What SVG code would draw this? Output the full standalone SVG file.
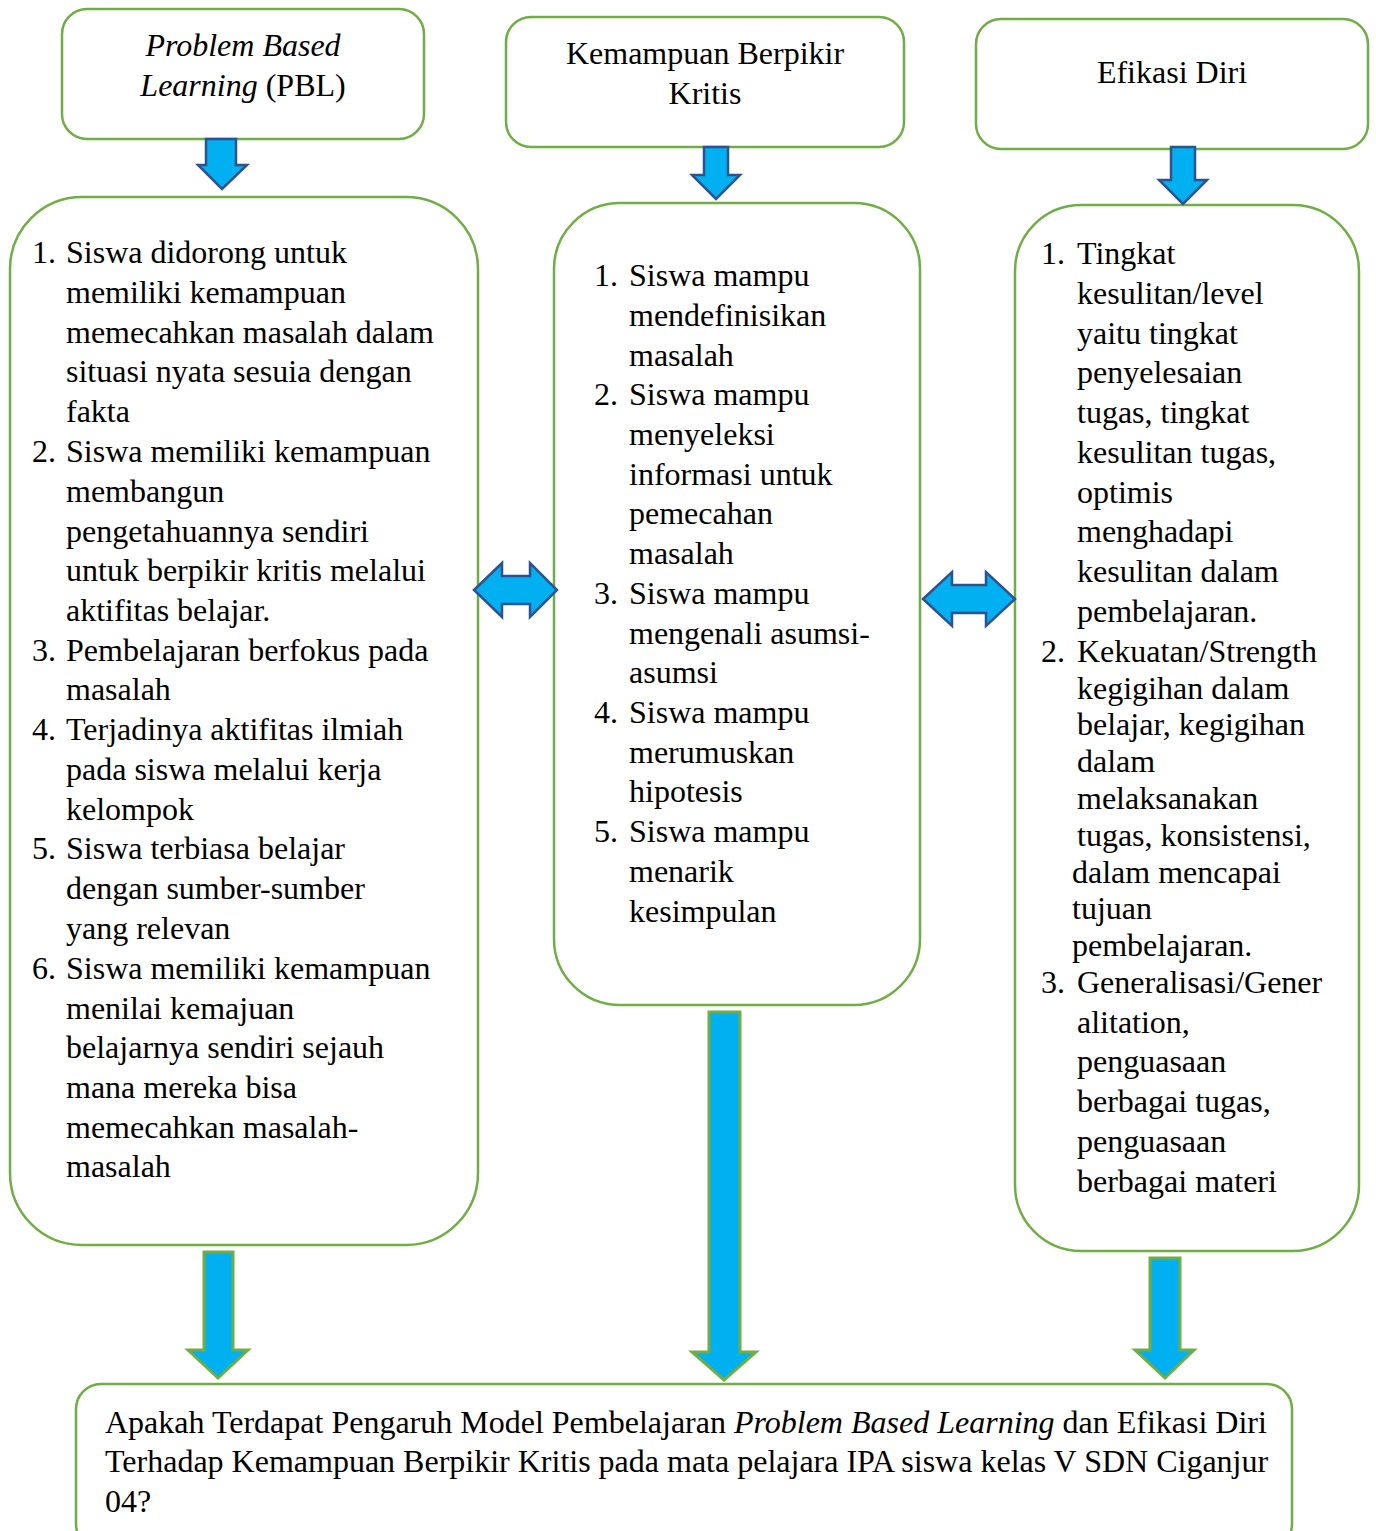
<svg xmlns="http://www.w3.org/2000/svg" width="1376" height="1531" viewBox="0 0 1376 1531">
<style>
.box{fill:#fff;stroke:#70AD47;stroke-width:2.5}
.t{font-family:'Liberation Serif','DejaVu Serif',serif;font-size:32px;fill:#000}
.c{text-anchor:middle}
.sa{fill:#00B0F0;stroke:#2F528F;stroke-width:2.5;stroke-linejoin:miter}
.la{fill:#00B0F0;stroke:#70AD47;stroke-width:3;stroke-linejoin:miter}
</style>
<rect width="1376" height="1531" fill="#fff"/>

<g id="pbl" font-family="Liberation Serif, DejaVu Serif, serif">
<rect class="box" x="62" y="9" width="362" height="130" rx="25"/>
<text class="t c" x="243" y="56"><tspan font-style="italic">Problem Based</tspan></text>
<text class="t c" x="243" y="96"><tspan font-style="italic">Learning</tspan> (PBL)</text>
</g>

<g id="kbk" font-family="Liberation Serif, DejaVu Serif, serif">
<rect class="box" x="506" y="17" width="398" height="130" rx="25"/>
<text class="t c" x="705" y="64">Kemampuan Berpikir</text>
<text class="t c" x="705" y="104">Kritis</text>
</g>

<g id="ed" font-family="Liberation Serif, DejaVu Serif, serif">
<rect class="box" x="976" y="19" width="392" height="130" rx="25"/>
<text class="t c" x="1172" y="83">Efikasi Diri</text>
</g>

<g id="pbl-list" font-family="Liberation Serif, DejaVu Serif, serif">
<rect class="box" x="10" y="197" width="468" height="1048" rx="72"/>
<g class="t">
<text x="32" y="263">1.</text><text x="66" y="263">Siswa didorong untuk</text>
<text x="66" y="303">memiliki kemampuan</text>
<text x="66" y="343">memecahkan masalah dalam</text>
<text x="66" y="382">situasi nyata sesuia dengan</text>
<text x="66" y="422">fakta</text>
<text x="32" y="462">2.</text><text x="66" y="462">Siswa memiliki kemampuan</text>
<text x="66" y="502">membangun</text>
<text x="66" y="542">pengetahuannya sendiri</text>
<text x="66" y="581">untuk berpikir kritis melalui</text>
<text x="66" y="621">aktifitas belajar.</text>
<text x="32" y="661">3.</text><text x="66" y="661">Pembelajaran berfokus pada</text>
<text x="66" y="700">masalah</text>
<text x="32" y="740">4.</text><text x="66" y="740">Terjadinya aktifitas ilmiah</text>
<text x="66" y="780">pada siswa melalui kerja</text>
<text x="66" y="820">kelompok</text>
<text x="32" y="859">5.</text><text x="66" y="859">Siswa terbiasa belajar</text>
<text x="66" y="899">dengan sumber-sumber</text>
<text x="66" y="939">yang relevan</text>
<text x="32" y="979">6.</text><text x="66" y="979">Siswa memiliki kemampuan</text>
<text x="66" y="1019">menilai kemajuan</text>
<text x="66" y="1058">belajarnya sendiri sejauh</text>
<text x="66" y="1098">mana mereka bisa</text>
<text x="66" y="1138">memecahkan masalah-</text>
<text x="66" y="1177">masalah</text>
</g>
</g>

<g id="kbk-list" font-family="Liberation Serif, DejaVu Serif, serif">
<rect class="box" x="554" y="203" width="366" height="802" rx="66"/>
<g class="t">
<text x="594" y="286">1.</text><text x="629" y="286">Siswa mampu</text>
<text x="629" y="326">mendefinisikan</text>
<text x="629" y="366">masalah</text>
<text x="594" y="405">2.</text><text x="629" y="405">Siswa mampu</text>
<text x="629" y="445">menyeleksi</text>
<text x="629" y="485">informasi untuk</text>
<text x="629" y="524">pemecahan</text>
<text x="629" y="564">masalah</text>
<text x="594" y="604">3.</text><text x="629" y="604">Siswa mampu</text>
<text x="629" y="644">mengenali asumsi-</text>
<text x="629" y="683">asumsi</text>
<text x="594" y="723">4.</text><text x="629" y="723">Siswa mampu</text>
<text x="629" y="763">merumuskan</text>
<text x="629" y="802">hipotesis</text>
<text x="594" y="842">5.</text><text x="629" y="842">Siswa mampu</text>
<text x="629" y="882">menarik</text>
<text x="629" y="922">kesimpulan</text>
</g>
</g>

<g id="ed-list" font-family="Liberation Serif, DejaVu Serif, serif">
<rect class="box" x="1015" y="205" width="344" height="1046" rx="66"/>
<g class="t">
<text x="1041" y="264">1.</text><text x="1077" y="264">Tingkat</text>
<text x="1077" y="304">kesulitan/level</text>
<text x="1077" y="344">yaitu tingkat</text>
<text x="1077" y="383">penyelesaian</text>
<text x="1077" y="423">tugas, tingkat</text>
<text x="1077" y="463">kesulitan tugas,</text>
<text x="1077" y="503">optimis</text>
<text x="1077" y="542">menghadapi</text>
<text x="1077" y="582">kesulitan dalam</text>
<text x="1077" y="622">pembelajaran.</text>
<text x="1041" y="662">2.</text><text x="1077" y="662">Kekuatan/Strength</text>
<text x="1077" y="699">kegigihan dalam</text>
<text x="1077" y="735">belajar, kegigihan</text>
<text x="1077" y="772">dalam</text>
<text x="1077" y="809">melaksanakan</text>
<text x="1077" y="846">tugas, konsistensi,</text>
<text x="1072" y="883">dalam mencapai</text>
<text x="1072" y="919">tujuan</text>
<text x="1072" y="956">pembelajaran.</text>
<text x="1041" y="993">3.</text><text x="1077" y="993">Generalisasi/Gener</text>
<text x="1077" y="1033">alitation,</text>
<text x="1077" y="1072">penguasaan</text>
<text x="1077" y="1112">berbagai tugas,</text>
<text x="1077" y="1152">penguasaan</text>
<text x="1077" y="1192">berbagai materi</text>
</g>
</g>

<g id="question" font-family="Liberation Serif, DejaVu Serif, serif">
<rect class="box" x="76" y="1384" width="1216" height="165" rx="25"/>
<g class="t">
<text x="105" y="1433">Apakah Terdapat Pengaruh Model Pembelajaran <tspan font-style="italic">Problem Based Learning</tspan> dan Efikasi Diri</text>
<text x="105" y="1472">Terhadap Kemampuan Berpikir Kritis pada mata pelajara IPA siswa kelas V SDN Ciganjur</text>
<text x="105" y="1512">04?</text>
</g>
</g>

<g id="connectors">
<polygon class="sa" points="206,139 236,139 236,165 247,165 222,189 198,165 206,165"/>
<polygon class="sa" points="704,147 728,147 728,175 740,175 716,199 692,175 704,175"/>
<polygon class="sa" points="1171,147 1195,147 1195,180 1207,180 1183,204 1159,180 1171,180"/>
<polygon class="sa" points="474,590 502,563 502,576 530,576 530,563 557,590 530,617 530,604 502,604 502,617"/>
<polygon class="sa" points="923,599 952,572 952,585 986,585 986,572 1015,599 986,626 986,613 952,613 952,626"/>
<polygon class="la" points="204,1252 233,1252 233,1350 248,1350 218,1378 188,1350 204,1350"/>
<polygon class="la" points="709,1012 740,1012 740,1352 756,1352 724,1380 692,1352 709,1352"/>
<polygon class="la" points="1150,1258 1180,1258 1180,1350 1194,1350 1165,1378 1135,1350 1150,1350"/>
</g>
</svg>
